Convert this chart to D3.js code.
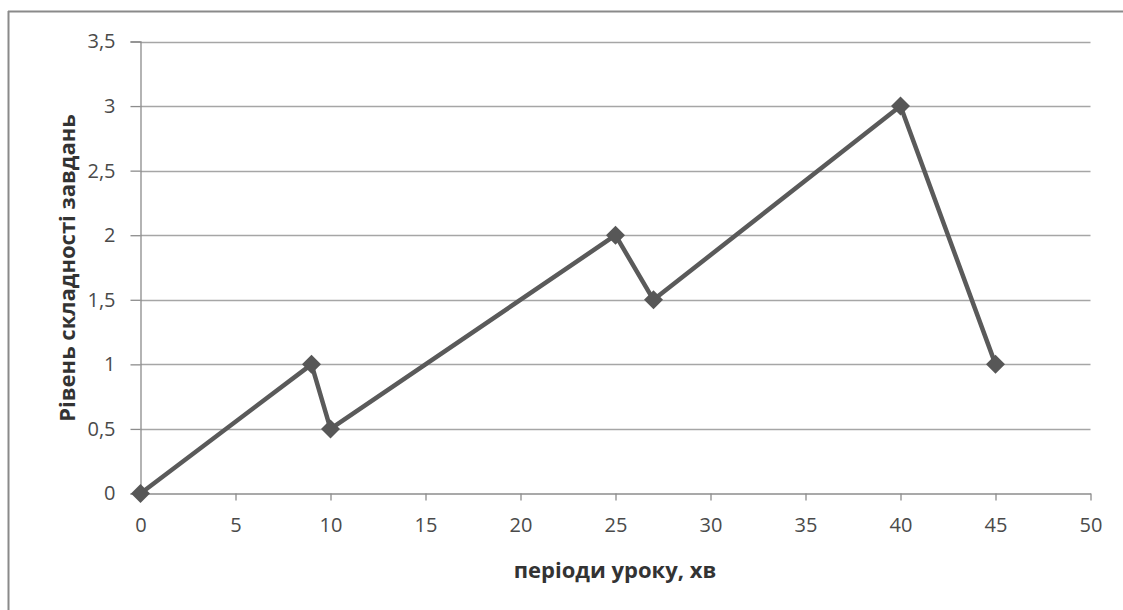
<!DOCTYPE html>
<html>
<head>
<meta charset="utf-8">
<script src="https://cdn.jsdelivr.net/npm/d3@7"></script>
<style>
  html, body { margin: 0; padding: 0; background: #fff; }
  svg { display: block; }
  .tick text { font-family: "Open Sans", Lato, sans-serif; font-size: 20px; fill: #4a4a4a; }
</style>
</head>
<body>
<svg id="chart" width="1123" height="610"></svg>
<script>
// Lesson periods (minutes) and task difficulty level
const minutes = [0, 9, 10, 25, 27, 40, 45];
const difficulty = [0, 1, 0.5, 2, 1.5, 3, 1];
const xTicks = [0, 5, 10, 15, 20, 25, 30, 35, 40, 45, 50];
const yTicks = [0, 0.5, 1, 1.5, 2, 2.5, 3, 3.5];
const xTitle = "періоди уроку, хв";
const yTitle = "Рівень складності завдань";

(function () {
  const svg = d3.select("#chart");
  const W = 1123, H = 610;
  const plotLeft = 140.5, plotRight = 1090.5, plotTop = 41.5, plotBottom = 493.5;

  // frame edges
  svg.append("line").attr("x1", 8).attr("x2", W).attr("y1", 11.5).attr("y2", 11.5)
    .attr("stroke", "#8a8a8a").attr("stroke-width", 2);
  svg.append("line").attr("x1", 8.5).attr("x2", 8.5).attr("y1", 11).attr("y2", H)
    .attr("stroke", "#8a8a8a").attr("stroke-width", 2);

  const x = d3.scaleLinear().domain([0, 50]).range([plotLeft, plotRight]);
  const y = d3.scaleLinear().domain([0, 3.5]).range([plotBottom, plotTop]);

  // horizontal gridlines
  svg.append("g").selectAll("line").data(yTicks.filter(d => d > 0)).join("line")
    .attr("x1", plotLeft).attr("x2", plotRight)
    .attr("y1", d => Math.round(y(d)) + 0.5).attr("y2", d => Math.round(y(d)) + 0.5)
    .attr("stroke", "#a6a6a6").attr("stroke-width", 1.3);

  // y axis
  const yAxis = svg.append("g").attr("transform", `translate(${plotLeft},0)`)
    .call(d3.axisLeft(y).tickValues(yTicks).tickSize(10).tickPadding(15)
      .tickFormat(d => String(d).replace(".", ",")));
  yAxis.select(".domain").attr("stroke", "#8c8c8c").attr("stroke-width", 1.3);
  yAxis.selectAll(".tick line").attr("stroke", "#8c8c8c").attr("stroke-width", 1.3);

  // x axis
  const xAxis = svg.append("g").attr("transform", `translate(0,${plotBottom})`)
    .call(d3.axisBottom(x).tickValues(xTicks).tickSize(7).tickSizeOuter(0).tickPadding(17));
  xAxis.select(".domain").attr("stroke", "#8c8c8c").attr("stroke-width", 1.3);
  xAxis.selectAll(".tick line").attr("stroke", "#8c8c8c").attr("stroke-width", 1.3);

  // axis titles
  svg.append("text").attr("x", 615).attr("y", 578).attr("text-anchor", "middle")
    .attr("font-family", "'Open Sans', Lato, sans-serif").attr("font-weight", "bold")
    .attr("font-size", 22).attr("fill", "#333").text(xTitle);
  svg.append("text").attr("transform", "translate(75,268) rotate(-90)")
    .attr("text-anchor", "middle")
    .attr("font-family", "'Open Sans', Lato, sans-serif").attr("font-weight", "bold")
    .attr("font-size", 22).attr("fill", "#333").text(yTitle);

  // series line
  const pts = minutes.map((m, i) => [m, difficulty[i]]);
  svg.append("path").datum(pts)
    .attr("fill", "none").attr("stroke", "#5a5a5a").attr("stroke-width", 4.5)
    .attr("stroke-linejoin", "round")
    .attr("d", d3.line().x(d => x(d[0])).y(d => y(d[1])));

  // diamond markers
  svg.append("g").selectAll("path").data(pts).join("path")
    .attr("transform", d => `translate(${x(d[0])},${y(d[1])})`)
    .attr("d", d3.symbol().type(d3.symbolDiamond2).size(230))
    .attr("fill", "#575757");
})();
</script>
</body>
</html>
